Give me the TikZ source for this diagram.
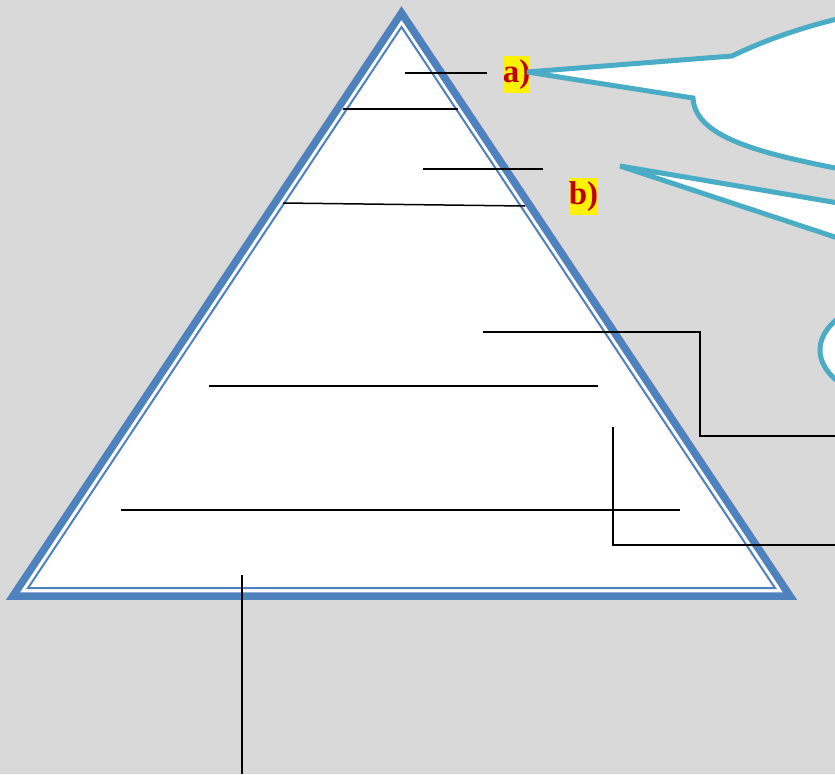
\documentclass[tikz,border=0pt]{standalone}
\usepackage{fontspec}
\setmainfont{Liberation Serif}
\usepackage{xcolor}
\usetikzlibrary{positioning}

\definecolor{pyrblue}{HTML}{4F81BD}
\definecolor{callcyan}{HTML}{4BACC6}
\definecolor{tagred}{HTML}{C00000}
\definecolor{bggray}{HTML}{D9D9D9}

\begin{document}
\begin{tikzpicture}[x=1pt, y=-1pt, line join=miter]

    \tikzstyle{leader}=[draw=black, line width=1.5pt]
    \tikzstyle{tag}=[fill=yellow, text=tagred, inner sep=0pt, minimum height=37pt,
                     font=\fontsize{33}{36}\selectfont\bfseries]
    \tikzstyle{bubble}=[draw=callcyan, fill=white, line width=5pt, miter limit=1.5]

    \useasboundingbox (0,0) rectangle (835,774);
    \clip (0,0) rectangle (835,774);
    \fill[bggray] (0,0) rectangle (835,774);

    % pyramid
    \coordinate (TOP) at (401.5,13);
    \coordinate (LEFT) at (13,596);
    \coordinate (RIGHT) at (790,596);
    \coordinate (INTOP) at (401.5,27);
    \coordinate (INLEFT) at (28,588);
    \coordinate (INRIGHT) at (775,588);
    \filldraw[fill=white, draw=pyrblue, line width=7.5pt] (TOP) -- (LEFT) -- (RIGHT) -- cycle;
    \draw[pyrblue, line width=2pt] (INTOP) -- (INLEFT) -- (INRIGHT) -- cycle;

    % leader lines
    \coordinate (L1a) at (405,73);   \coordinate (L1b) at (487,73);
    \coordinate (L2a) at (343,109);  \coordinate (L2b) at (458,109);
    \coordinate (L3a) at (423,169);  \coordinate (L3b) at (543,169);
    \coordinate (L4a) at (283,203);  \coordinate (L4b) at (525,206);
    \coordinate (L5a) at (483,332);  \coordinate (L5b) at (700,332);
    \coordinate (L5c) at (700,436);  \coordinate (L5d) at (835,436);
    \coordinate (L6a) at (209,386);  \coordinate (L6b) at (598,386);
    \coordinate (L7a) at (613,427);  \coordinate (L7b) at (613,545);
    \coordinate (L7c) at (835,545);
    \coordinate (L8a) at (121,510);  \coordinate (L8b) at (680,510);
    \coordinate (L9a) at (242,575);  \coordinate (L9b) at (242,774);

    \path[leader] (L1a) -- (L1b);
    \path[leader] (L2a) -- (L2b);
    \path[leader] (L3a) -- (L3b);
    \path[leader] (L4a) -- (L4b);
    \path[leader] (L5a) -- (L5b) -- (L5c) -- (L5d);
    \path[leader] (L6a) -- (L6b);
    \path[leader] (L7a) -- (L7b) -- (L7c);
    \path[leader] (L8a) -- (L8b);
    \path[leader] (L9a) -- (L9b);

    % tags
    \node[tag, minimum width=27pt] (TAGA) at (516.5,74.5) {a)};
    \node[tag, minimum width=29pt] (TAGB) at (583.5,196.5) {b)};

    % callouts
    \coordinate (TIPA) at (527,72);
    \coordinate (TIPB) at (620,166);
    \path[bubble] (TIPA) -- (732,56) .. controls (765,40) and (805,26) .. (850,16)
                  -- (850,171) .. controls (770,155) and (695,140) .. (693,98) -- cycle;
    \path[bubble] (TIPB) -- (850,205) -- (850,242) -- cycle;
    \path[bubble] (940,350) ellipse [x radius=120, y radius=60];

\end{tikzpicture}
\end{document}
